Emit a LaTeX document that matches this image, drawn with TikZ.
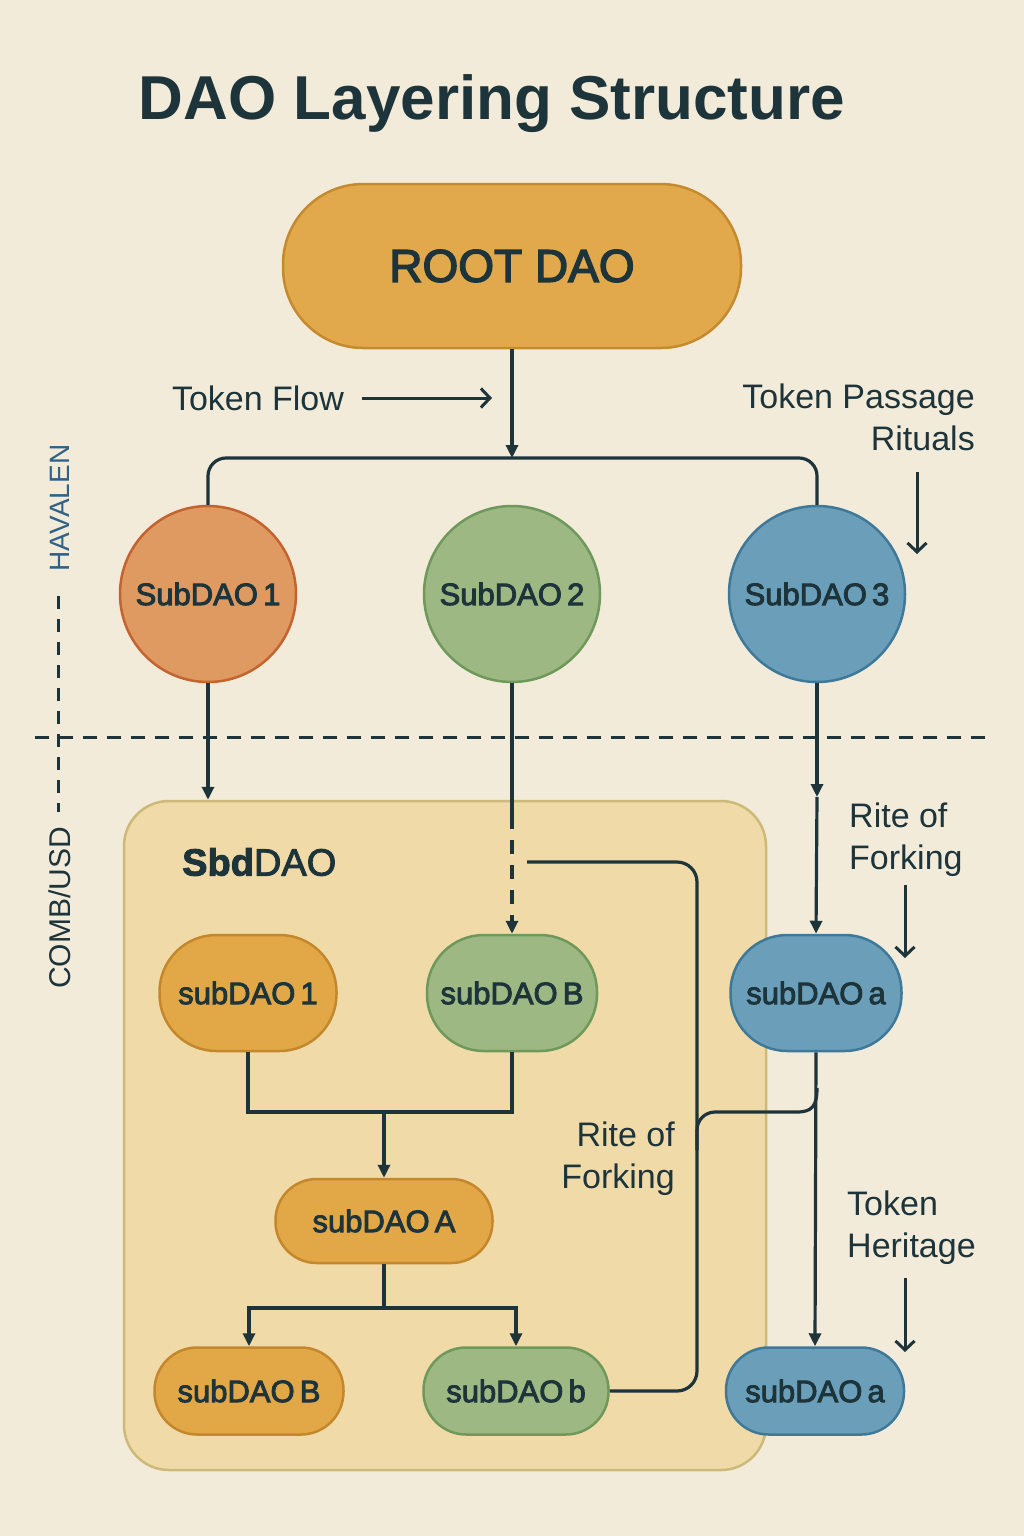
\documentclass[tikz,border=0pt]{standalone}
\usepackage{fontspec}
\setmainfont{Liberation Sans}
\usetikzlibrary{arrows.meta,calc}

\definecolor{bg}{HTML}{F3EBDA}
\definecolor{ink}{HTML}{1D343B}
\definecolor{rootfill}{HTML}{E2A94C}
\definecolor{rootdraw}{HTML}{C68A2E}
\definecolor{orfill}{HTML}{DE9A60}
\definecolor{ordraw}{HTML}{C4632F}
\definecolor{pofill}{HTML}{E2A848}
\definecolor{podraw}{HTML}{C4872C}
\definecolor{grfill}{HTML}{9DB883}
\definecolor{grdraw}{HTML}{6E995A}
\definecolor{blfill}{HTML}{6B9FB9}
\definecolor{bldraw}{HTML}{3F7999}
\definecolor{boxfill}{HTML}{F0DAA8}
\definecolor{boxdraw}{HTML}{CDBA7A}
\definecolor{sideblue}{HTML}{2F6286}

\newcommand\heavyon{\special{pdf:literal direct 2 Tr 0.9 w}}
\newcommand\heavieron{\special{pdf:literal direct 2 Tr 1.4 w}}
\newcommand\heavyoff{\special{pdf:literal direct 0 Tr}}

\tikzset{
  conn/.style={draw=ink, line width=3.2pt},
  tip/.style={-{Triangle[length=13pt,width=12pt]}},
  larrow/.style={draw=ink, line width=3pt, -{Straight Barb[length=9pt,width=19pt]}},
  dashln/.style={draw=ink, line width=3pt, dash pattern=on 14pt off 10pt},
  lbl/.style={font=\fontsize{34}{42}\selectfont, text=ink, inner sep=0pt},
  heavytext/.style={execute at begin node={\heavyon}, execute at end node={\heavyoff}},
  heaviertext/.style={execute at begin node={\heavieron}, execute at end node={\heavyoff}},
  ntext/.style={font=\fontsize{31}{36}\selectfont, text=ink, inner sep=0pt, heavytext},
  pill/.style 2 args={rectangle, minimum width=#1, minimum height=#2, rounded corners=0.49*#2, line width=2.5pt},
  bubble/.style={circle, minimum size=176pt, line width=2.5pt, inner sep=0pt},
  orangep/.style={fill=pofill, draw=podraw},
  greenp/.style={fill=grfill, draw=grdraw},
  bluep/.style={fill=blfill, draw=bldraw},
}

\begin{document}
\begin{tikzpicture}[x=1pt, y=-1pt]
\useasboundingbox (0,0) rectangle (1024,1536);
\fill[bg] (0,0) rectangle (1024,1536);

% title
\node[font=\bfseries\fontsize{62}{70}\selectfont, text=ink, anchor=base, inner sep=0pt] (title) at (492,120) {DAO Layering Structure};

% layer separators
\coordinate (hl1) at (35,737);
\coordinate (hl2) at (990,737);
\draw[dashln] (hl1) -- (hl2);
\coordinate (vl1) at (58,596);
\coordinate (vl2) at (58,812);
\draw[dashln, dash pattern=on 13pt off 10pt] (vl1) -- (vl2);
\node[font=\fontsize{28}{30}\selectfont, text=sideblue, rotate=90, inner sep=0pt] (hav) at (60,508) {HAVALEN};
\node[font=\fontsize{30}{32}\selectfont, text=ink, rotate=90, inner sep=0pt] (comb) at (60,908) {COMB/USD};

% container
\node[draw=boxdraw, fill=boxfill, line width=2.5pt, rounded corners=45pt, minimum width=642pt, minimum height=669pt] (box) at (445,1135.5) {};
\node[font=\fontsize{38}{44}\selectfont, text=ink, anchor=west, inner sep=0pt, heavytext] (sbd) at (182,862) {\textbf{Sbd}DAO};

% root
\node[pill={458pt}{164pt}, fill=rootfill, draw=rootdraw, font=\fontsize{46}{52}\selectfont, text=ink, heaviertext] (root) at (512,266) {ROOT DAO};

% subDAO circles
\node[bubble, fill=orfill, draw=ordraw, ntext] (s1) at (208,594) {SubDAO\,1};
\node[bubble, fill=grfill, draw=grdraw, ntext] (s2) at (512,594) {SubDAO\,2};
\node[bubble, fill=blfill, draw=bldraw, ntext] (s3) at (817,594) {SubDAO\,3};

% pills
\node[pill={177pt}{116pt}, orangep, ntext] (p1) at (248,993) {subDAO\,1};
\node[pill={170pt}{116pt}, greenp, ntext] (pB) at (512,993) {subDAO\,B};
\node[pill={171pt}{116pt}, bluep, ntext] (pa) at (816,993) {subDAO\,a};
\node[pill={217pt}{84pt}, orangep, ntext] (pA) at (384,1221) {subDAO\,A};
\node[pill={189pt}{87pt}, orangep, ntext] (pB2) at (249,1391) {subDAO\,B};
\node[pill={185pt}{87pt}, greenp, ntext] (pb) at (516,1391) {subDAO\,b};
\node[pill={178pt}{87pt}, bluep, ntext] (pa2) at (815,1391) {subDAO\,a};

% labels
\node[lbl, anchor=base] (tf) at (258,410) {Token Flow};
\coordinate (tfend) at (492,398);
\draw[larrow] ([xshift=18pt]tf.east |- tfend) -- (tfend);

\node[lbl, anchor=north east, align=right] (tpr) at (975,384) {Token Passage\\Rituals};
\coordinate (tpr1) at (917,472);
\coordinate (tpr2) at (917,554);
\draw[larrow] (tpr1) -- (tpr2);

\node[lbl, anchor=north west, align=left] (rf1) at (849,803) {Rite of\\Forking};
\coordinate (rf1a) at (905,885);
\coordinate (rf1b) at (905,958);
\draw[larrow] (rf1a) -- (rf1b);

\node[lbl, anchor=north east, align=right] (rf2) at (675,1122) {Rite of\\Forking};

\node[lbl, anchor=north west, align=left] (th) at (847,1191) {Token\\Heritage};
\coordinate (tha) at (905,1278);
\coordinate (thb) at (905,1352);
\draw[larrow] (tha) -- (thb);

% connectors top
\coordinate (j1) at (512,458);
\draw[conn, tip] (root.south) -- (j1);
\draw[conn, rounded corners=18pt] (s1.north) |- (j1) -| (s3.north);

\draw[conn, tip] (s1.south) -- (s1.south |- box.north);

\coordinate (d2) at (512,815);
\draw[conn] (s2.south) -- (d2);
\draw[conn, tip, dash pattern=on 14pt off 11pt] (d2) -- (pB.north);

\coordinate (m3) at (817,797);
\draw[conn, tip] (s3.south) -- (m3);
\draw[conn, tip] (m3) -- (pa.north);

% fork line
\coordinate (fk) at (527,862);
\coordinate (fkc) at (697,1391);
\draw[conn, rounded corners=20pt] (fk) -| (fkc) -- (pb.east);
\coordinate (brA) at (697,1150);
\coordinate (brM) at (797,1112);
\coordinate (brB) at (817,1088);
\draw[conn, rounded corners=18pt] (brA) |- (brM);
\draw[conn] (brM) .. controls (812,1112) and (817,1106) .. (brB);

\draw[conn, tip] (pa.south) -- (pa2.north);

% inner tree
\coordinate (jm) at (384,1112);
\draw[conn] (p1.south) |- (jm) -| (pB.south);
\draw[conn, tip] (jm) -- (pA.north);
\coordinate (jn) at (384,1308);
\draw[conn] (pA.south) -- (jn);
\draw[conn, tip] (jn) -| (pB2.north);
\draw[conn, tip] (jn) -| (pb.north);
\end{tikzpicture}
\end{document}
